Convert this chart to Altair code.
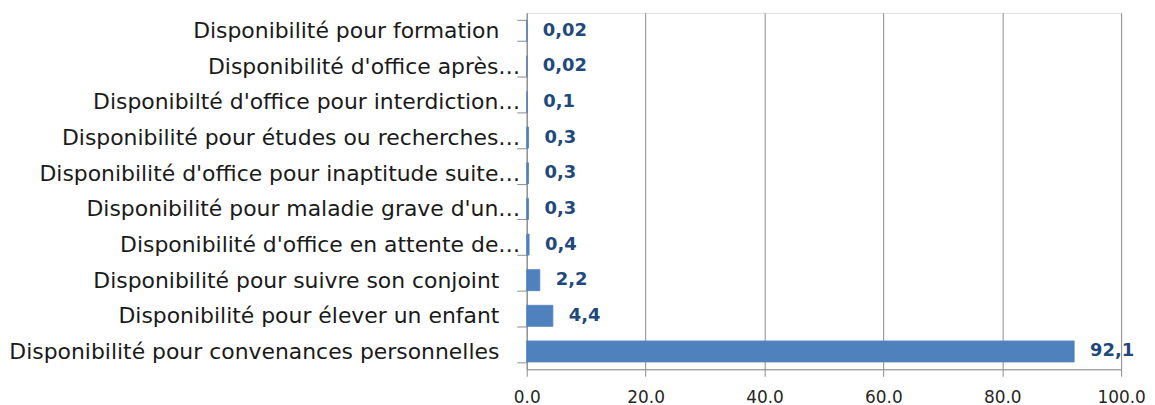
import altair as alt
import pandas as pd

categories = [
    "Disponibilité pour formation",
    "Disponibilité d'office après…",
    "Disponibilté d'office pour interdiction…",
    "Disponibilité pour études ou recherches…",
    "Disponibilité d'office pour inaptitude suite…",
    "Disponibilité pour maladie grave d'un…",
    "Disponibilité d'office en attente de…",
    "Disponibilité pour suivre son conjoint",
    "Disponibilité pour élever un enfant",
    "Disponibilité pour convenances personnelles",
]
values = [0.02, 0.02, 0.1, 0.3, 0.3, 0.3, 0.4, 2.2, 4.4, 92.1]
value_labels = ["0,02", "0,02", "0,1", "0,3", "0,3", "0,3", "0,4", "2,2", "4,4", "92,1"]

df = pd.DataFrame({"cat": categories, "val": values, "lbl": value_labels})

FONT = "DejaVu Sans"
GRID = "#8c8c8c"

y = alt.Y(
    "cat:N",
    sort=categories,
    scale=alt.Scale(paddingInner=0.41, paddingOuter=0.205),
    axis=alt.Axis(
        title=None,
        tickBand="extent",
        tickSize=10,
        tickColor=GRID,
        domainColor=GRID,
        labelPadding=-3,
        labelFont=FONT,
        labelFontSize=22,
        labelColor="#1a1a1a",
        labelLimit=0,
        labelExpr="indexof(datum.label, '\\u2026') >= 0 ? datum.label : datum.label + '\\u00a0\\u00a0\\u00a0\\u200b'",
    ),
)

x = alt.X(
    "val:Q",
    scale=alt.Scale(domain=[0, 100], nice=False),
    axis=alt.Axis(
        title=None,
        values=[0, 20, 40, 60, 80, 100],
        format=".1f",
        grid=True,
        gridColor=GRID,
        gridWidth=1,
        tickSize=7,
        tickColor=GRID,
        domainColor=GRID,
        labelFont=FONT,
        labelFontSize=17,
        labelColor="#262626",
        labelPadding=13,
        labelFlush=False,
    ),
)

bars = alt.Chart(df).mark_bar(color="#4F81BD", stroke="#4F81BD", strokeWidth=0.8).encode(x=x, y=y)

texts = alt.Chart(df).mark_text(
    align="left", baseline="middle", dx=16, font=FONT, fontSize=18, fontWeight="bold", color="#1F497D"
).encode(x="val:Q", y=alt.Y("cat:N", sort=categories), text="lbl:N")

chart = (
    alt.layer(bars, texts)
    .properties(
        width=597,
        height=358,
        autosize=alt.AutoSizeParams(type="none"),
        padding={"left": 521, "top": 4, "right": 26, "bottom": 36},
    )
    .configure_view(stroke=None)
    .configure(background="white")
)

chart.save("out.html", embed_options={"renderer": "svg", "actions": False})
